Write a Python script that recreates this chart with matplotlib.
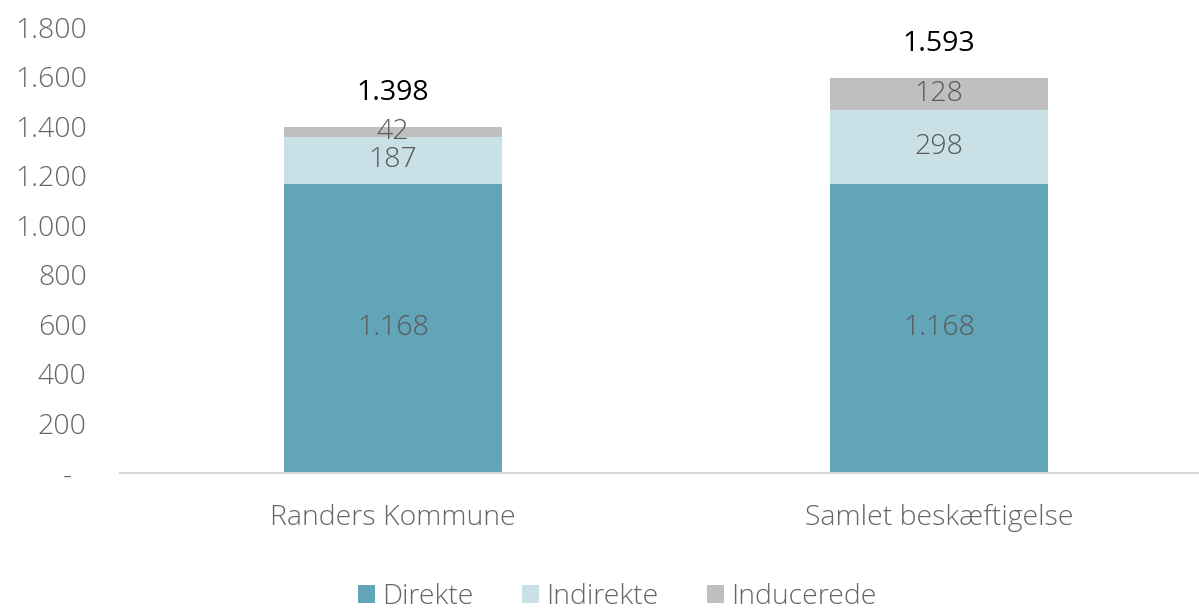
import matplotlib
matplotlib.use("Agg")
import matplotlib.pyplot as plt
from matplotlib.ticker import FixedLocator, FuncFormatter

categories = ["Randers Kommune", "Samlet beskæftigelse"]
series_names = ["Direkte", "Indirekte", "Inducerede"]
direkte = [1168, 1168]
indirekte = [187, 298]
inducerede = [42, 128]
totals = [1398, 1593]
yticks = [0, 200, 400, 600, 800, 1000, 1200, 1400, 1600, 1800]

colors = ["#62A5B8", "#C8E0E6", "#BFBFBF"]
FONT = ["Open Sans", "DejaVu Sans"]
plt.rcParams["font.family"] = FONT
plt.rcParams["font.weight"] = "light"
FS = 20.5

def dk(v):
    if v == 0:
        return "-  "
    return f"{int(round(v)):,}".replace(",", ".")

fig = plt.figure(figsize=(11.99, 6.09), dpi=100)
ax = fig.add_axes([120/1199, 1 - 473/609, 1 - 120/1199, (473 - 27)/609])

x = list(range(len(categories)))
width = 0.4
bottoms = [0] * len(categories)
for name, vals, c in zip(series_names, [direkte, indirekte, inducerede], colors):
    ax.bar(x, vals, width, bottom=bottoms, color=c, label=name, zorder=2)
    for xi, v, b in zip(x, vals, bottoms):
        ax.text(xi, b + v / 2, dk(v), ha="center", va="center",
                fontsize=FS, color="#595959", fontweight="light")
    bottoms = [b + v for b, v in zip(bottoms, vals)]

for xi, b, t in zip(x, bottoms, totals):
    ax.text(xi, b + 138, dk(t), ha="center", va="center",
            fontsize=FS, color="black", fontweight="normal")

ax.set_ylim(0, 1800)
ax.set_xlim(-0.5, 1.5 - 13/546)
ax.yaxis.set_major_locator(FixedLocator(yticks))
ax.yaxis.set_major_formatter(FuncFormatter(lambda v, p: dk(v)))
ax.set_xticks(x)
ax.set_xticklabels(categories)
for s in ["top", "right", "left"]:
    ax.spines[s].set_visible(False)
ax.spines["bottom"].set_color("#D9D9D9")
ax.spines["bottom"].set_linewidth(1.5)
ax.tick_params(axis="both", length=0, labelsize=FS, colors="#666666")
ax.tick_params(axis="y", pad=24)
ax.tick_params(axis="x", pad=22)
for lbl in ax.get_yticklabels() + ax.get_xticklabels():
    lbl.set_fontweight("light")

leg = fig.legend(loc="center", bbox_to_anchor=(617/1199, 1 - 597/609), ncol=3,
                 frameon=False, fontsize=FS, handlelength=0.6, handleheight=0.6,
                 handletextpad=0.25, columnspacing=1.7)
for t in leg.get_texts():
    t.set_color("#666666")
    t.set_fontweight("light")

fig.savefig("out.png", dpi=100)
